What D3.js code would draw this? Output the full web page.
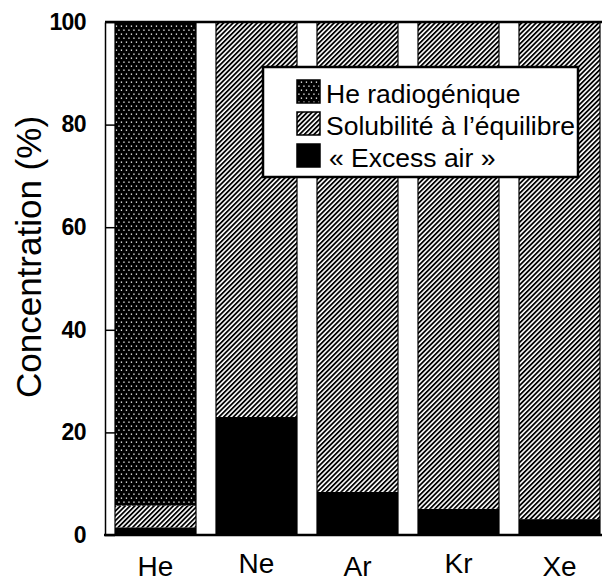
<!DOCTYPE html>
<html><head><meta charset="utf-8">
<script src="https://cdn.jsdelivr.net/npm/d3@7"></script>
<style>body{margin:0;background:#fff}svg{display:block;font-family:"Liberation Sans",Arial,Helvetica,sans-serif}</style>
</head><body><svg id="c" width="602" height="581"></svg>
<script>
const categories = ["He","Ne","Ar","Kr","Xe"];
const excessAir   = [1.5, 23, 8.4, 5.1, 3.1];
const solubility  = [4.2, 77, 91.6, 94.9, 96.9];
const radiogenic  = [94.3, 0, 0, 0, 0];
const seriesNames = ["« Excess air »","Solubilité à l’équilibre","He radiogénique"];
const yTicks = [0,20,40,60,80,100];
const labelDy = [0,-3,0,-3,0];

const svg = d3.select("#c");
const defs = svg.append("defs");
const hatch = defs.append("pattern").attr("id","hatch").attr("patternUnits","userSpaceOnUse")
  .attr("width",3.4).attr("height",3.4).attr("patternTransform","rotate(45)");
hatch.append("rect").attr("width",3.4).attr("height",3.4).attr("fill","#fff");
hatch.append("rect").attr("width",1.8).attr("height",3.4).attr("fill","#000");
const dots = defs.append("pattern").attr("id","dots").attr("patternUnits","userSpaceOnUse")
  .attr("width",5).attr("height",8);
dots.append("rect").attr("width",5).attr("height",8).attr("fill","#000");
dots.append("rect").attr("x",0.8).attr("y",1.5).attr("width",1.3).attr("height",1.3).attr("fill","#fff");
dots.append("rect").attr("x",3.3).attr("y",5.5).attr("width",1.3).attr("height",1.3).attr("fill","#fff");

const fills = ["#000","url(#hatch)","url(#dots)"];
const data = categories.map((c,i)=>({cat:c, ea:excessAir[i], sol:solubility[i], rad:radiogenic[i]}));
const stack = d3.stack().keys(["ea","sol","rad"])(data);

const x = d3.scaleBand().domain(categories).range([105,610]).paddingInner(0.198).paddingOuter(0.099);
const y = d3.scaleLinear().domain([0,100]).range([535,22]);

// bars
stack.forEach((s,k)=>{
  svg.append("g").selectAll("rect").data(s).join("rect")
    .attr("x",d=>x(d.data.cat)).attr("width",x.bandwidth())
    .attr("y",d=>y(d[1])).attr("height",d=>Math.max(0,y(d[0])-y(d[1])))
    .attr("fill",fills[k]);
});
svg.append("g").selectAll("rect").data(data).join("rect")
  .attr("x",d=>x(d.cat)).attr("width",x.bandwidth())
  .attr("y",y(100)).attr("height",y(0)-y(100))
  .attr("fill","none").attr("stroke","#000").attr("stroke-width",1.2);

// frame
svg.append("line").attr("x1",105).attr("x2",602).attr("y1",y(100)).attr("y2",y(100)).attr("stroke","#000").attr("stroke-width",2.5);
svg.append("line").attr("x1",104).attr("x2",602).attr("y1",y(0)).attr("y2",y(0)).attr("stroke","#000").attr("stroke-width",2.5);

// y axis
const yAxis = d3.axisLeft(y).tickValues(yTicks).tickSizeInner(-10).tickSizeOuter(0).tickPadding(19);
const ga = svg.append("g").attr("transform","translate(105,0)").call(yAxis);
ga.select(".domain").attr("stroke-width",1.5);
ga.selectAll(".tick line").attr("stroke-width",1.5);
ga.selectAll("text").attr("font-size",23).attr("font-weight","bold").attr("fill","#000")
  .attr("font-family","'Liberation Sans',Arial,sans-serif").attr("letter-spacing",-0.6);

// x labels
const gx = d3.axisBottom(x).tickSize(0).tickPadding(0);
const gxa = svg.append("g").attr("transform","translate(0,566)").call(gx);
gxa.select(".domain").remove();
gxa.selectAll("text").attr("font-size",28).attr("fill","#000")
  .attr("font-family","'Liberation Sans',Arial,sans-serif")
  .attr("dy",(d,i)=>(10+labelDy[i])+"px");

// y title
svg.append("text").attr("transform","translate(41,257) rotate(-90)")
  .attr("text-anchor","middle").attr("font-size",35).text("Concentration (%)");

// legend
const lg = svg.append("g");
lg.append("rect").attr("x",263).attr("y",67).attr("width",315).attr("height",110)
  .attr("fill","#fff").attr("stroke","#000").attr("stroke-width",2.5);
const legendItems = [{name:seriesNames[2],fill:fills[2]},{name:seriesNames[1],fill:fills[1]},{name:seriesNames[0],fill:fills[0]}];
legendItems.forEach((it,i)=>{
  const yy = 80 + i*32;
  lg.append("rect").attr("x",297).attr("y",yy).attr("width",23).attr("height",23)
    .attr("fill",it.fill).attr("stroke","#000").attr("stroke-width",1.5);
  lg.append("text").attr("x",i===2?329:326).attr("y",yy+23).attr("font-size",26.5).text(it.name);
});
</script></body></html>
